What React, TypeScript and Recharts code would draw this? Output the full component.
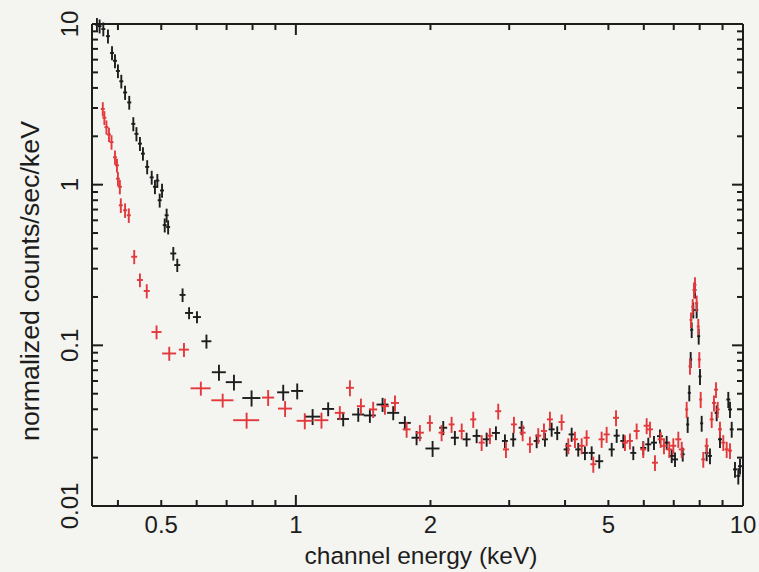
import { ScatterChart, Scatter, XAxis, YAxis, ErrorBar } from "recharts";

const INK = "#1d1d1d";
const RED = "#e3393c";
const FONT = '"Liberation Sans", Arial, Helvetica, sans-serif';

// [energy (keV), energy half-width, normalized counts/sec/keV, error]
const blackPoints: [number, number, number, number][] = [
  [0.359, 0.0037, 9.9, 0.99],
  [0.364, 0.0037, 9.7, 0.97],
  [0.371, 0.0038, 9.3, 0.92],
  [0.38, 0.0039, 8.4, 0.84],
  [0.388, 0.004, 6.6, 0.66],
  [0.394, 0.004, 5.9, 0.59],
  [0.4, 0.0041, 5.1, 0.5],
  [0.407, 0.0042, 4.4, 0.43],
  [0.415, 0.0043, 3.75, 0.38],
  [0.424, 0.0044, 3.25, 0.32],
  [0.433, 0.0045, 2.39, 0.24],
  [0.44, 0.0045, 2.07, 0.21],
  [0.448, 0.0046, 1.8, 0.18],
  [0.455, 0.0047, 1.56, 0.15],
  [0.465, 0.0048, 1.29, 0.13],
  [0.476, 0.0049, 1.11, 0.11],
  [0.484, 0.005, 0.97, 0.097],
  [0.49, 0.005, 1.06, 0.106],
  [0.496, 0.0051, 0.8, 0.08],
  [0.502, 0.0052, 0.92, 0.092],
  [0.509, 0.0052, 0.56, 0.056],
  [0.514, 0.0053, 0.645, 0.064],
  [0.518, 0.0053, 0.545, 0.055],
  [0.532, 0.0082, 0.373, 0.036],
  [0.543, 0.0084, 0.316, 0.03],
  [0.558, 0.0086, 0.206, 0.02],
  [0.577, 0.0119, 0.159, 0.0136],
  [0.601, 0.0124, 0.15, 0.0129],
  [0.631, 0.0162, 0.106, 0.0106],
  [0.673, 0.0243, 0.068, 0.0078],
  [0.727, 0.03, 0.059, 0.0067],
  [0.796, 0.037, 0.047, 0.0054],
  [0.937, 0.029, 0.051, 0.0058],
  [1.007, 0.031, 0.052, 0.0059],
  [1.09, 0.045, 0.036, 0.0041],
  [1.181, 0.0365, 0.0402, 0.004],
  [1.276, 0.039, 0.0348, 0.0035],
  [1.379, 0.043, 0.0371, 0.0037],
  [1.464, 0.045, 0.0366, 0.0037],
  [1.563, 0.048, 0.0428, 0.0043],
  [1.651, 0.051, 0.038, 0.0038],
  [1.753, 0.054, 0.0329, 0.0033],
  [1.862, 0.048, 0.0266, 0.0027],
  [2.022, 0.073, 0.0228, 0.0026],
  [2.136, 0.044, 0.0307, 0.0031],
  [2.268, 0.047, 0.0266, 0.0027],
  [2.409, 0.05, 0.026, 0.0026],
  [2.537, 0.052, 0.0273, 0.0027],
  [2.671, 0.055, 0.026, 0.0026],
  [2.802, 0.058, 0.0285, 0.0028],
  [2.935, 0.045, 0.0254, 0.0025],
  [3.063, 0.047, 0.026, 0.0026],
  [3.198, 0.049, 0.0307, 0.0031],
  [3.456, 0.053, 0.0254, 0.0025],
  [3.606, 0.056, 0.026, 0.0026],
  [3.733, 0.058, 0.03, 0.003],
  [3.842, 0.059, 0.0285, 0.0028],
  [4.033, 0.062, 0.0225, 0.0022],
  [4.138, 0.064, 0.0279, 0.0028],
  [4.281, 0.066, 0.0225, 0.0022],
  [4.431, 0.068, 0.0214, 0.0021],
  [4.587, 0.071, 0.0214, 0.0021],
  [4.77, 0.098, 0.019, 0.0019],
  [5.086, 0.079, 0.0225, 0.0022],
  [5.218, 0.081, 0.0274, 0.0027],
  [5.399, 0.083, 0.0254, 0.0025],
  [5.684, 0.088, 0.0214, 0.0021],
  [5.983, 0.092, 0.023, 0.0023],
  [6.14, 0.095, 0.0242, 0.0024],
  [6.323, 0.098, 0.0248, 0.0025],
  [6.521, 0.1, 0.0272, 0.0027],
  [6.75, 0.1, 0.0248, 0.0025],
  [6.927, 0.107, 0.0205, 0.002],
  [7.046, 0.109, 0.0195, 0.002],
  [7.331, 0.075, 0.021, 0.0021],
  [7.521, 0.058, 0.0322, 0.0037],
  [7.584, 0.059, 0.0506, 0.0058],
  [7.638, 0.059, 0.0815, 0.0093],
  [7.678, 0.059, 0.125, 0.014],
  [7.741, 0.06, 0.166, 0.019],
  [7.809, 0.06, 0.221, 0.025],
  [7.877, 0.061, 0.166, 0.019],
  [7.96, 0.061, 0.114, 0.013],
  [8.013, 0.062, 0.064, 0.0073],
  [8.083, 0.062, 0.0327, 0.0037],
  [8.293, 0.085, 0.0214, 0.0024],
  [8.436, 0.087, 0.0205, 0.0023],
  [8.732, 0.09, 0.038, 0.0043],
  [8.882, 0.091, 0.026, 0.003],
  [9.271, 0.095, 0.046, 0.0053],
  [9.352, 0.096, 0.0399, 0.0046],
  [9.435, 0.097, 0.03, 0.0034],
  [9.596, 0.099, 0.0169, 0.0019],
  [9.761, 0.1, 0.0154, 0.0018],
  [9.847, 0.1, 0.0177, 0.002],
];

const redPoints: [number, number, number, number][] = [
  [0.37, 0.0038, 2.96, 0.3],
  [0.373, 0.0038, 2.61, 0.26],
  [0.377, 0.0039, 2.28, 0.23],
  [0.382, 0.0039, 2.05, 0.21],
  [0.387, 0.004, 1.84, 0.19],
  [0.394, 0.004, 1.48, 0.15],
  [0.398, 0.0041, 1.32, 0.13],
  [0.4, 0.0041, 1.09, 0.11],
  [0.404, 0.0042, 0.97, 0.1],
  [0.406, 0.0042, 0.744, 0.078],
  [0.415, 0.0043, 0.693, 0.072],
  [0.423, 0.0044, 0.645, 0.067],
  [0.435, 0.0067, 0.356, 0.036],
  [0.448, 0.0069, 0.255, 0.025],
  [0.464, 0.0072, 0.218, 0.022],
  [0.488, 0.0126, 0.121, 0.012],
  [0.521, 0.0188, 0.089, 0.0089],
  [0.562, 0.0145, 0.094, 0.0094],
  [0.613, 0.0316, 0.054, 0.0054],
  [0.686, 0.039, 0.0455, 0.0045],
  [0.776, 0.052, 0.0342, 0.0039],
  [0.867, 0.027, 0.0473, 0.0054],
  [0.946, 0.034, 0.0404, 0.0046],
  [1.047, 0.043, 0.0339, 0.0039],
  [1.141, 0.041, 0.0342, 0.0039],
  [1.254, 0.032, 0.038, 0.0038],
  [1.321, 0.027, 0.0544, 0.0062],
  [1.398, 0.029, 0.0418, 0.0048],
  [1.489, 0.031, 0.0399, 0.0046],
  [1.582, 0.033, 0.0418, 0.0048],
  [1.666, 0.034, 0.0438, 0.005],
  [1.769, 0.036, 0.03, 0.0034],
  [1.894, 0.039, 0.0286, 0.0033],
  [1.994, 0.031, 0.0329, 0.0038],
  [2.118, 0.033, 0.0286, 0.0033],
  [2.23, 0.034, 0.0322, 0.0037],
  [2.349, 0.036, 0.0293, 0.0033],
  [2.493, 0.039, 0.0346, 0.004],
  [2.603, 0.04, 0.0248, 0.0028],
  [2.716, 0.042, 0.0274, 0.0031],
  [2.835, 0.044, 0.0389, 0.0044],
  [2.95, 0.046, 0.0225, 0.0026],
  [3.074, 0.047, 0.0322, 0.0037],
  [3.215, 0.05, 0.0286, 0.0033],
  [3.338, 0.052, 0.0242, 0.0028],
  [3.484, 0.054, 0.0274, 0.0031],
  [3.588, 0.055, 0.0293, 0.0033],
  [3.7, 0.057, 0.0346, 0.004],
  [3.93, 0.061, 0.0333, 0.0038],
  [4.067, 0.063, 0.0237, 0.0027],
  [4.209, 0.065, 0.026, 0.003],
  [4.357, 0.067, 0.0237, 0.0027],
  [4.47, 0.069, 0.0266, 0.003],
  [4.626, 0.071, 0.0182, 0.0021],
  [4.829, 0.075, 0.026, 0.003],
  [4.955, 0.077, 0.0279, 0.0032],
  [5.2, 0.08, 0.0354, 0.004],
  [5.445, 0.084, 0.0248, 0.0028],
  [5.587, 0.086, 0.0254, 0.0029],
  [5.783, 0.089, 0.0293, 0.0033],
  [5.983, 0.092, 0.0225, 0.0026],
  [6.089, 0.094, 0.0316, 0.0036],
  [6.194, 0.096, 0.03, 0.0034],
  [6.355, 0.098, 0.0186, 0.0021],
  [6.545, 0.1, 0.026, 0.003],
  [6.657, 0.1, 0.0237, 0.0027],
  [6.842, 0.106, 0.0225, 0.0026],
  [6.985, 0.108, 0.0237, 0.0027],
  [7.167, 0.111, 0.026, 0.003],
  [7.294, 0.113, 0.0225, 0.0026],
  [7.482, 0.058, 0.0399, 0.0046],
  [7.611, 0.059, 0.074, 0.0085],
  [7.65, 0.059, 0.144, 0.016],
  [7.717, 0.06, 0.174, 0.02],
  [7.769, 0.06, 0.221, 0.025],
  [7.809, 0.06, 0.238, 0.027],
  [7.877, 0.061, 0.183, 0.021],
  [7.943, 0.061, 0.131, 0.015],
  [7.985, 0.062, 0.0815, 0.0093],
  [8.042, 0.062, 0.046, 0.0053],
  [8.15, 0.084, 0.0195, 0.0022],
  [8.293, 0.085, 0.0237, 0.0027],
  [8.511, 0.088, 0.0346, 0.004],
  [8.612, 0.089, 0.0438, 0.005],
  [8.702, 0.09, 0.053, 0.006],
  [8.778, 0.09, 0.0399, 0.0046],
  [8.882, 0.091, 0.03, 0.0034],
  [9.035, 0.093, 0.0248, 0.0028],
  [9.194, 0.095, 0.0225, 0.0026],
  [9.352, 0.096, 0.0221, 0.0025],
];

const xTicks = [0.4, 0.5, 0.6, 0.7, 0.8, 0.9, 1, 2, 3, 4, 5, 6, 7, 8, 9, 10];
const xLabelled = [0.5, 1, 2, 5, 10];
const yTicks = [
  0.01, 0.02, 0.03, 0.04, 0.05, 0.06, 0.07, 0.08, 0.09,
  0.1, 0.2, 0.3, 0.4, 0.5, 0.6, 0.7, 0.8, 0.9,
  1, 2, 3, 4, 5, 6, 7, 8, 9, 10,
];
const yLabelled = [0.01, 0.1, 1, 10];
const decades = [0.01, 0.1, 1, 10];

const toRows = (pts: [number, number, number, number][]) =>
  pts.map(([e, de, f, df]) => ({ e, de, f, df }));
const blackData = toRows(blackPoints);
const redData = toRows(redPoints);

const tickLen = (v: number) => (decades.includes(v) ? 11 : 6);
const axisStyle = { stroke: INK, strokeWidth: 2 };
const textStyle = { fontFamily: FONT, fill: INK };
const BAR_W = 1.9;

const bottomTick = ({ x, y, payload }: any) => {
  const v = payload.value;
  return (
    <g>
      <line x1={x} x2={x} y1={y} y2={y - tickLen(v)} stroke={INK} strokeWidth={2} />
      {xLabelled.includes(v) && (
        <text x={x} y={y + 27} textAnchor="middle" fontSize={24} {...textStyle}>
          {String(v)}
        </text>
      )}
    </g>
  );
};

const topTick = ({ x, y, payload }: any) => (
  <line x1={x} x2={x} y1={y} y2={y + tickLen(payload.value)} stroke={INK} strokeWidth={2} />
);

const leftTick = ({ x, y, payload }: any) => {
  const v = payload.value;
  const tx = x - 14;
  return (
    <g>
      <line x1={x} x2={x + tickLen(v)} y1={y} y2={y} stroke={INK} strokeWidth={2} />
      {yLabelled.includes(v) && (
        <text
          x={tx}
          y={y}
          transform={`rotate(-90 ${tx} ${y})`}
          textAnchor="middle"
          fontSize={24}
          {...textStyle}
        >
          {String(v)}
        </text>
      )}
    </g>
  );
};

const rightTick = ({ x, y, payload }: any) => (
  <line x1={x} x2={x - tickLen(payload.value)} y1={y} y2={y} stroke={INK} strokeWidth={2} />
);

const xTitle = () => (
  <text x={421} y={564} textAnchor="middle" fontSize={24.5} {...textStyle}>
    channel energy (keV)
  </text>
);

const yTitle = () => (
  <text
    x={39}
    y={281}
    transform="rotate(-90 39 281)"
    textAnchor="middle"
    fontSize={26}
    textLength={320}
    lengthAdjust="spacingAndGlyphs"
    {...textStyle}
  >
    normalized counts/sec/keV
  </text>
);

const noMark = () => <g />;

export default function App() {
  const xProps = {
    dataKey: "e",
    type: "number" as const,
    scale: "log" as const,
    domain: [0.35, 10],
    allowDataOverflow: true,
    ticks: xTicks,
    interval: 0,
    tickSize: 0,
    tickMargin: 0,
    tickLine: false,
    axisLine: axisStyle,
  };
  const yProps = {
    dataKey: "f",
    type: "number" as const,
    scale: "log" as const,
    domain: [0.01, 10],
    allowDataOverflow: true,
    ticks: yTicks,
    interval: 0,
    tickSize: 0,
    tickMargin: 0,
    tickLine: false,
    axisLine: axisStyle,
  };

  return (
    <div
      style={{
        position: "absolute",
        left: 0,
        top: 0,
        width: 759,
        height: 572,
        background: "#f4f4f0",
      }}
    >
      <ScatterChart width={759} height={572} margin={{ top: 23, right: 15, bottom: 0, left: 0 }}>
        <XAxis xAxisId="b" {...xProps} height={66} tick={bottomTick} label={xTitle} />
        <XAxis xAxisId="t" orientation="top" {...xProps} height={1} tick={topTick} />
        <YAxis yAxisId="l" {...yProps} width={92} tick={leftTick} label={yTitle} />
        <YAxis yAxisId="r" orientation="right" {...yProps} width={1} tick={rightTick} />

        {/* the frame axes need a series of their own to be drawn */}
        <Scatter xAxisId="t" yAxisId="r" data={blackData} shape={noMark} isAnimationActive={false} />

        <Scatter xAxisId="b" yAxisId="l" data={blackData} shape={noMark} isAnimationActive={false}>
          <ErrorBar dataKey="de" direction="x" width={0} stroke={INK} strokeWidth={BAR_W} isAnimationActive={false} />
          <ErrorBar dataKey="df" direction="y" width={0} stroke={INK} strokeWidth={BAR_W} isAnimationActive={false} />
        </Scatter>
        <Scatter xAxisId="b" yAxisId="l" data={redData} shape={noMark} isAnimationActive={false}>
          <ErrorBar dataKey="de" direction="x" width={0} stroke={RED} strokeWidth={BAR_W} isAnimationActive={false} />
          <ErrorBar dataKey="df" direction="y" width={0} stroke={RED} strokeWidth={BAR_W} isAnimationActive={false} />
        </Scatter>
      </ScatterChart>
    </div>
  );
}
